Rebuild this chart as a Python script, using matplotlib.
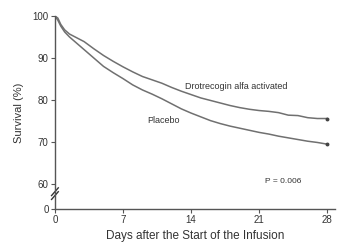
import matplotlib
matplotlib.use("Agg")
import matplotlib.pyplot as plt

plt.rcParams['font.family'] = ['Liberation Sans', 'DejaVu Sans']

days = [0, 0.3, 0.6, 1, 1.5, 2, 3, 4, 5, 6, 7, 8, 9, 10, 11, 12, 13, 14,
        15, 16, 17, 18, 19, 20, 21, 22, 23, 24, 25, 26, 27, 28]
drotrecogin = [100, 99.5, 98.0, 96.7, 95.7, 95.1, 93.9, 92.2, 90.6, 89.2,
               87.9, 86.7, 85.6, 84.8, 84.0, 83.0, 82.1, 81.3, 80.5, 79.9,
               79.3, 78.7, 78.2, 77.8, 77.5, 77.3, 77.0, 76.4, 76.3, 75.8,
               75.6, 75.6]
placebo = [100, 99.0, 97.6, 96.2, 95.0, 94.0, 92.0, 90.0, 88.0, 86.5,
           85.1, 83.6, 82.4, 81.4, 80.3, 79.1, 77.9, 76.9, 76.0, 75.1,
           74.4, 73.8, 73.3, 72.8, 72.3, 71.9, 71.4, 71.0, 70.6, 70.2,
           69.9, 69.5]

x_ticks = [0, 7, 14, 21, 28]
y_ticks = [60, 70, 80, 90, 100]
y_zero = 54.05  # where "0" sits below the axis break

fig = plt.figure(figsize=(3.39, 2.42), dpi=100)
ax = fig.add_axes([0.162, 0.136, 0.826, 0.798])

line_col = '#707070'
ax.plot(days, drotrecogin, color=line_col, lw=1.1)
ax.plot(days, placebo, color=line_col, lw=1.1)
ax.plot(days[-1], drotrecogin[-1], 'o', color='#444', ms=1.8)
ax.plot(days[-1], placebo[-1], 'o', color='#444', ms=1.8)

ax.set_xlim(0, 28.8)
ax.set_ylim(y_zero, 100)
ax.set_xticks(x_ticks)
ax.set_yticks([y_zero] + y_ticks)
ax.set_yticklabels(['0'] + [str(v) for v in y_ticks])

for s in ['top', 'right']:
    ax.spines[s].set_visible(False)
for s in ['left', 'bottom']:
    ax.spines[s].set_color('#555')
    ax.spines[s].set_linewidth(1.0)
ax.tick_params(colors='#555', labelcolor='#333', labelsize=7,
               length=3, width=0.8, pad=1.5)

# axis break marks
for dy in [0.0, 0.02]:
    ax.plot([-0.012, 0.012], [0.05 + dy, 0.09 + dy], transform=ax.transAxes,
            color='#333', lw=1.0, clip_on=False)

ax.text(13.4, 83.3, 'Drotrecogin alfa activated', fontsize=6.5, color='#333',
        va='center')
ax.text(9.5, 75.2, 'Placebo', fontsize=6.5, color='#333', va='center')
ax.text(21.6, 60.5, 'P = 0.006', fontsize=6, color='#333', va='center')

ax.set_ylabel('Survival (%)', fontsize=8, color='#333', labelpad=6)
ax.set_xlabel('Days after the Start of the Infusion', fontsize=8.5,
              color='#333', labelpad=3)

fig.savefig('out.png', dpi=100)
